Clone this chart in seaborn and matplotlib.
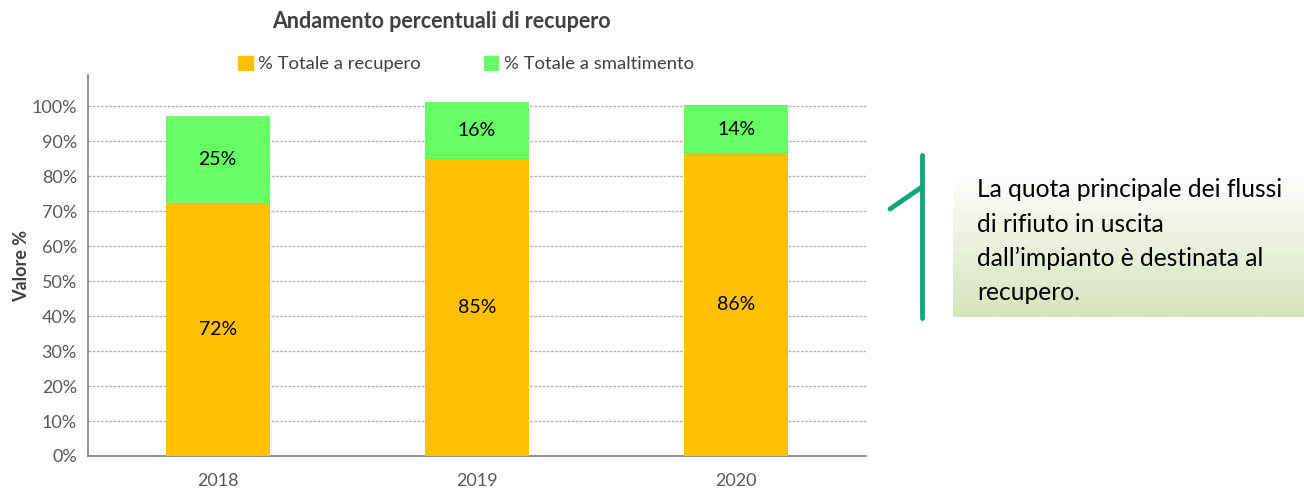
import numpy as np
import pandas as pd
import matplotlib
matplotlib.use("Agg")
import matplotlib.pyplot as plt
from matplotlib.colors import LinearSegmentedColormap
from matplotlib.lines import Line2D
from matplotlib.patches import Patch
import seaborn as sns

# dati
anni = ["2018", "2019", "2020"]
recupero = [72.2, 84.9, 86.4]
smaltimento = [25.2, 16.3, 14.1]
yticks = [0, 10, 20, 30, 40, 50, 60, 70, 80, 90, 100]

col_rec = "#FFC000"
col_sma = "#66FF66"
col_testo = "#595959"
col_linea = "#12A67E"

sns.set_theme(style="white")
plt.rcParams["font.family"] = ["Lato", "DejaVu Sans"]

df = pd.DataFrame({"anno": anni, "recupero": recupero, "smaltimento": smaltimento})
df["totale"] = df["recupero"] + df["smaltimento"]

fig = plt.figure(figsize=(13.04, 4.91), dpi=100)
ax = fig.add_axes([88 / 1304, 1 - 456 / 491, (866 - 88) / 1304, (456 - 75) / 491])

sns.barplot(data=df, x="anno", y="totale", color=col_sma, saturation=1, width=0.4,
            linewidth=0, ax=ax, zorder=3)
sns.barplot(data=df, x="anno", y="recupero", color=col_rec, saturation=1, width=0.4,
            linewidth=0, ax=ax, zorder=3)

# etichette dati
for i, r in df.iterrows():
    ax.text(i, r["recupero"] / 2, f"{r['recupero']:.0f}%", ha="center", va="center",
            fontsize=14, color="black", zorder=4)
    ax.text(i, r["recupero"] + r["smaltimento"] / 2, f"{r['smaltimento']:.0f}%", ha="center",
            va="center", fontsize=14, color="black", zorder=4)

ax.set_xlim(-0.5, 2.5)
ax.set_ylim(0, 109)
ax.set_yticks(yticks)
ax.set_yticklabels([f"{v}%" for v in yticks])
ax.yaxis.grid(True, color="#b5b5b5", linestyle=(0, (2, 1)), linewidth=1, zorder=0)
ax.set_axisbelow(True)
ax.tick_params(axis="both", labelsize=13, colors=col_testo, length=0, pad=8)
ax.tick_params(axis="x", pad=12)
ax.set_xlabel("")
ax.set_ylabel("Valore %", fontsize=13, fontweight="bold", color="#404040", labelpad=1)
for s in ["top", "right"]:
    ax.spines[s].set_visible(False)
for s in ["left", "bottom"]:
    ax.spines[s].set_color("#7f7f7f")
    ax.spines[s].set_linewidth(1.2)

fig.text(441 / 1304, 1 - 22 / 491, "Andamento percentuali di recupero", ha="center", va="center",
         fontsize=15.5, fontweight="bold", color="#404040")

handles = [Patch(color=col_rec, label="% Totale a recupero"),
           Patch(color=col_sma, label="% Totale a smaltimento")]
fig.legend(handles=handles, loc="center", bbox_to_anchor=(466 / 1304, 1 - 64 / 491), ncol=2,
           frameon=False, fontsize=13.3, handlelength=0.8, handleheight=0.8, handletextpad=0.3,
           columnspacing=3.4, labelcolor="#404040")

# riquadro con sfumatura
box = fig.add_axes([953 / 1304, 1 - 317 / 491, (1304 - 953) / 1304, (317 - 170) / 491])
cmap = LinearSegmentedColormap.from_list("sf", ["#ffffff", "#ebf1de", "#d7e4bd"])
box.imshow(np.linspace(0, 1, 100).reshape(-1, 1), aspect="auto", cmap=cmap, extent=[0, 1, 0, 1])
box.set_axis_off()
righe = ["La quota principale dei flussi", "di rifiuto in uscita",
         "dall\u2019impianto è destinata al", "recupero."]
for k, riga in enumerate(righe):
    fig.text(977 / 1304, 1 - (190 + 34 * k) / 491, riga, ha="left", va="center",
             fontsize=17.7, color="black")

fig.add_artist(Line2D([922 / 1304, 922 / 1304], [1 - 155 / 491, 1 - 318 / 491],
                      color=col_linea, linewidth=3.5, transform=fig.transFigure))
fig.add_artist(Line2D([890 / 1304, 922 / 1304], [1 - 209 / 491, 1 - 187 / 491],
                      color=col_linea, linewidth=3.5, transform=fig.transFigure))

fig.savefig("out.png", dpi=100)
